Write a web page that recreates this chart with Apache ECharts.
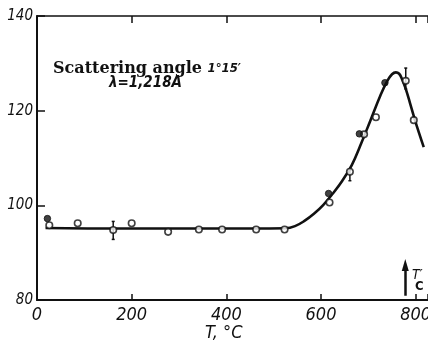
<!DOCTYPE html>
<html>
<head>
<meta charset="utf-8">
<style>
  html, body { margin: 0; padding: 0; background: #fff; }
  #chart { width: 428px; height: 342px; }
</style>
<script src="https://cdn.jsdelivr.net/npm/echarts@6/dist/echarts.min.js"></script>
</head>
<body>
<div id="chart"></div>
<script>
// Scattered intensity vs temperature, scattering angle 1°15', λ = 1.218 Å

// Tick labels
const xTicks = [0, 200, 400, 600, 800];
const yTicks = [80, 100, 120, 140];

// Smooth trend curve through the measurements [T °C, intensity]
const curveT = [18, 150, 300, 450, 525, 545, 565, 585, 605, 625, 645, 665, 685, 705, 725, 740, 750, 758, 765, 771, 779, 788, 797, 807, 817];
const curveI = [95.2, 95.1, 95.1, 95.1, 95.15, 95.6, 96.7, 98.2, 100.1, 102.5, 105.2, 108.5, 113.1, 118.1, 123.1, 126.3, 127.7, 128.1, 127.8, 126.7, 124.6, 121.6, 118.5, 115.3, 112.3];

// Open-circle measurements
const openT = [26, 86, 161, 200, 277, 342, 391, 463, 523, 618, 661, 691, 716, 779, 796];
const openI = [95.8, 96.2, 94.8, 96.2, 94.4, 94.9, 94.9, 94.9, 94.9, 100.6, 107.1, 115.0, 118.6, 126.3, 118.0];

// Filled-dot measurements
const fillT = [22, 616, 681, 735];
const fillI = [97.2, 102.5, 115.1, 125.9];

// Error bars: temperature, lower, upper
const errT = [161, 661, 779];
const errLo = [92.8, 105.2, 124.6];
const errHi = [96.6, 107.4, 129.0];

// Curie temperature marker
const tCurie = 778;
const arrowFrom = 80.9;
const arrowTo = 87.4;

const pairs = (xs, ys) => xs.map((x, i) => [x, ys[i]]);

const narrow = "'Liberation Sans Narrow', 'DejaVu Sans Condensed', sans-serif";
const ink = '#111';

const chart = echarts.init(document.getElementById('chart'), null, { renderer: 'canvas' });

chart.setOption({
  backgroundColor: '#fff',
  animation: false,
  grid: { left: 37, right: 0, top: 16, bottom: 42, containLabel: false, outerBoundsMode: 'none' },
  xAxis: [
    {
      type: 'value', position: 'bottom', min: 0, max: 826, interval: 200,
      axisLine: { show: true, onZero: false, lineStyle: { color: ink, width: 2 } },
      axisTick: { show: true, inside: true, length: 6, lineStyle: { color: ink, width: 1.5 } },
      axisLabel: {
        color: ink, fontSize: 18, fontStyle: 'italic', fontFamily: narrow, margin: 6,
        formatter: v => (xTicks.includes(v) ? String(v) : '')
      },
      splitLine: { show: false }
    },
    {
      type: 'value', position: 'top', min: 0, max: 826, interval: 200,
      axisLine: { show: true, onZero: false, lineStyle: { color: ink, width: 1.5 } },
      axisTick: { show: true, inside: true, length: 7, lineStyle: { color: ink, width: 1.5 } },
      axisLabel: { show: false },
      splitLine: { show: false }
    }
  ],
  yAxis: {
    type: 'value', min: 80, max: 140, interval: 20,
    axisLine: { show: true, onZero: false, lineStyle: { color: ink, width: 2 } },
    axisTick: { show: true, inside: true, length: 8, lineStyle: { color: ink, width: 1.5 } },
    axisLabel: {
      color: ink, fontSize: 15, fontStyle: 'italic', fontFamily: narrow, margin: 4,
      formatter: v => (yTicks.includes(v) ? String(v) : '')
    },
    splitLine: { show: false }
  },
  series: [
    {
      name: 'curve', type: 'line', data: pairs(curveT, curveI),
      smooth: 0.4, showSymbol: false, symbol: 'none',
      lineStyle: { color: ink, width: 2.6 }, z: 2,
      markLine: {
        silent: true, symbol: ['none', 'triangle'], symbolSize: [7, 12],
        label: { show: false },
        lineStyle: { color: ink, width: 2.5, type: 'solid' },
        data: [[{ coord: [tCurie, arrowFrom] }, { coord: [tCurie, arrowTo] }]]
      }
    },
    {
      name: 'errors', type: 'custom', z: 3,
      data: errT.map((t, i) => [t, errLo[i], errHi[i]]),
      renderItem: (params, api) => {
        const lo = api.coord([api.value(0), api.value(1)]);
        const hi = api.coord([api.value(0), api.value(2)]);
        return {
          type: 'group',
          children: [
            { type: 'line', shape: { x1: lo[0], y1: lo[1], x2: hi[0], y2: hi[1] }, style: { stroke: ink, lineWidth: 1.5 } },
            { type: 'line', shape: { x1: lo[0] - 1.5, y1: lo[1], x2: lo[0] + 1.5, y2: lo[1] }, style: { stroke: ink, lineWidth: 1.5 } },
            { type: 'line', shape: { x1: hi[0] - 1.5, y1: hi[1], x2: hi[0] + 1.5, y2: hi[1] }, style: { stroke: ink, lineWidth: 1.5 } }
          ]
        };
      }
    },
    {
      name: 'open', type: 'scatter', data: pairs(openT, openI),
      symbol: 'circle', symbolSize: 6.5, z: 4,
      itemStyle: { color: '#fff', borderColor: ink, borderWidth: 1.6 }
    },
    {
      name: 'filled', type: 'scatter', data: pairs(fillT, fillI),
      symbol: 'circle', symbolSize: 6.5, z: 4,
      itemStyle: { color: ink, borderColor: ink, borderWidth: 1 }
    }
  ],
  graphic: [
    {
      type: 'text', left: 53, top: 61,
      style: {
        text: '{s|Scattering angle }{a|1°15\u2032}',
        rich: {
          s: { fontFamily: "'DejaVu Serif', serif", fontWeight: 'bold', fontSize: 16, fill: ink },
          a: { fontFamily: narrow, fontStyle: 'italic', fontWeight: 'bold', fontSize: 13, fill: ink }
        }
      }
    },
    {
      type: 'text', left: 109, top: 76,
      style: { text: 'λ=1,218A', fontFamily: narrow, fontStyle: 'italic', fontWeight: 'bold', fontSize: 15, fill: ink }
    },
    {
      type: 'text', left: 205, top: 324,
      style: { text: 'T, °C', fontFamily: narrow, fontStyle: 'italic', fontSize: 18, fill: ink }
    },
    {
      type: 'text', left: 412, top: 268,
      style: { text: 'T\u2032', fontFamily: narrow, fontStyle: 'italic', fontSize: 14, fill: ink }
    },
    {
      type: 'text', left: 415, top: 280,
      style: { text: 'C', fontFamily: narrow, fontSize: 13, fontWeight: 'bold', fill: ink }
    }
  ]
});
</script>
</body>
</html>
